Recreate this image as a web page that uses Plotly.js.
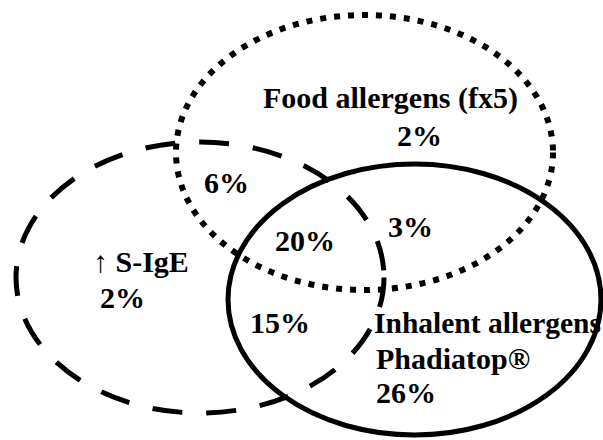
<!DOCTYPE html>
<html>
<head>
<meta charset="utf-8">
<script src="https://cdn.plot.ly/plotly-3.0.1.min.js"></script>
<style>html,body{margin:0;padding:0;background:#fff;}#chart{width:603px;height:440px;}</style>
</head>
<body>
<div id="chart"></div>
<script>
// Data: set names and region percentages
const setNames = ["Food allergens (fx5)", "\u2191 S-IgE", "Inhalent allergens", "Phadiatop\u00ae"];
const regionNames = ["Food only", "Food+IgE", "All three", "Food+Inhalent", "IgE only", "IgE+Inhalent", "Inhalent only"];
const regionValues = [2, 6, 20, 3, 2, 15, 26];

// Layout geometry (pixel-like axis units)
const ellipses = [
  {x0: 176, x1: 553, y0: 15, y1: 290, dash: "6px,8px", width: 6},   // Food (dotted)
  {x0: 16, x1: 384, y0: 142, y1: 413, dash: "30px,24px", width: 5}, // S-IgE (dashed)
  {x0: 228, x1: 601, y0: 164, y1: 435, dash: "solid", width: 5}     // Inhalent (solid)
];
const regionPos = [[419, 135], [226, 182], [305, 240], [410, 226], [122, 297], [280, 322], [374, 392]];
const regionAnchor = ["center", "center", "center", "center", "center", "center", "left"];
const namePos = [[390, 98, "center"], [141, 261, "center"], [372, 323, "left"], [374, 358, "left"]];
const nameSize = [30, 30, 29.5, 30];

const fontBase = {family: "Liberation Serif, Times New Roman, serif", size: 30, color: "#000"};

const shapes = ellipses.map(e => ({
  type: "circle", xref: "x", yref: "y",
  x0: e.x0, x1: e.x1, y0: e.y0, y1: e.y1,
  line: {color: "#000", width: e.width, dash: e.dash},
  fillcolor: "rgba(0,0,0,0)"
}));

const annotations = [];
setNames.forEach((n, i) => {
  annotations.push({x: namePos[i][0], y: namePos[i][1], xref: "x", yref: "y",
    text: "<b>" + n + "</b>", showarrow: false, xanchor: namePos[i][2], yanchor: "middle",
    font: Object.assign({}, fontBase, {size: nameSize[i]})});
});
regionValues.forEach((v, i) => {
  annotations.push({x: regionPos[i][0], y: regionPos[i][1], xref: "x", yref: "y",
    text: "<b>" + v + "%</b>", showarrow: false, xanchor: regionAnchor[i], yanchor: "middle",
    font: fontBase});
});

const layout = {
  width: 603, height: 440,
  margin: {l: 0, r: 0, t: 0, b: 0},
  paper_bgcolor: "#fff", plot_bgcolor: "#fff",
  xaxis: {range: [0, 603], visible: false, fixedrange: true},
  yaxis: {range: [440, 0], visible: false, fixedrange: true},
  shapes: shapes,
  annotations: annotations,
  showlegend: false
};

Plotly.newPlot("chart", [{x: [], y: [], type: "scatter", hoverinfo: "skip"}], layout, {displayModeBar: false, staticPlot: true});
</script>
</body>
</html>
